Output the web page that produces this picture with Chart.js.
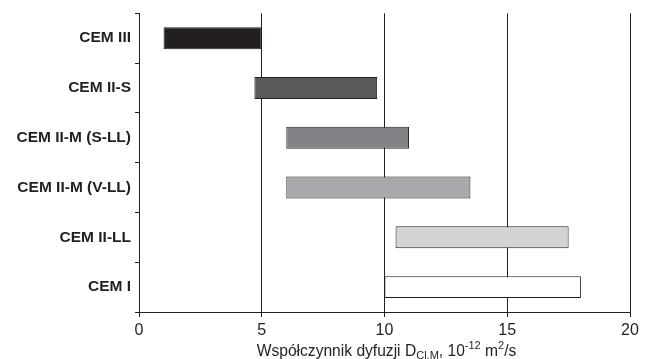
<!DOCTYPE html>
<html>
<head>
<meta charset="utf-8">
<script src="https://cdn.jsdelivr.net/npm/chart.js@4"></script>
<style>
  html, body { margin: 0; padding: 0; background: #fff; }
  #wrap { width: 651px; height: 359px; }
</style>
</head>
<body>
<div id="wrap"><canvas id="myChart"></canvas></div>
<script>
// cement types, top to bottom
var categories = ["CEM III", "CEM II-S", "CEM II-M (S-LL)", "CEM II-M (V-LL)", "CEM II-LL", "CEM I"];
// range of diffusion coefficient, 10^-12 m2/s
var rangeMin = [1.0, 4.7, 6.0, 6.0, 10.45, 10.0];
var rangeMax = [5.0, 9.7, 11.0, 13.5, 17.5, 18.0];
var barColors = ["#231f20", "#58595b", "#808285", "#a7a9ac", "#d1d3d4", "#ffffff"];
var xTicks = [0, 5, 10, 15, 20];

var ink = '#231f20';
var fontFam = 'Arial, "Liberation Sans", sans-serif';

// axis title with sub/superscripts, drawn by hand
var axisTitle = {
    id: 'axisTitle',
    afterDraw: function(chart) {
        var c = chart.ctx;
        var parts = [
            { t: 'Współczynnik dyfuzji D', s: 15.6, dy: 0 },
            { t: 'Cl,M', s: 11, dy: 3 },
            { t: ', 10', s: 15.6, dy: 0 },
            { t: '-12', s: 11, dy: -7 },
            { t: ' m', s: 15.6, dy: 0 },
            { t: '2', s: 11, dy: -7 },
            { t: '/s', s: 15.6, dy: 0 }
        ];
        c.save();
        c.fillStyle = ink;
        c.textBaseline = 'alphabetic';
        c.textAlign = 'left';
        var total = 0;
        parts.forEach(function(p) {
            c.font = p.s + 'px ' + fontFam;
            p.w = c.measureText(p.t).width;
            total += p.w;
        });
        var area = chart.chartArea;
        var x = (area.left + area.right) / 2 - total / 2 + 2;
        var y = 356;
        parts.forEach(function(p) {
            c.font = p.s + 'px ' + fontFam;
            c.fillText(p.t, x, y + p.dy);
            x += p.w;
        });
        c.restore();
    }
};

var ctx = document.getElementById("myChart").getContext('2d');

var myChart = new Chart(ctx, {
    type: 'bar',
    data: {
        labels: categories,
        datasets: [{
            data: categories.map(function(c, i) { return [rangeMin[i], rangeMax[i]]; }),
            backgroundColor: barColors,
            borderColor: ink,
            borderWidth: 1,
            borderSkipped: false,
            barPercentage: 0.44,
            categoryPercentage: 1.0
        }]
    },
    options: {
        indexAxis: 'y',
        responsive: true,
        maintainAspectRatio: false,
        animation: false,
        layout: { padding: { top: 12, right: 21, left: 0, bottom: 0 } },
        plugins: {
            legend: { display: false },
            tooltip: { enabled: false }
        },
        scales: {
            x: {
                min: 0,
                max: 20,
                afterBuildTicks: function(scale) {
                    scale.ticks = xTicks.map(function(v) { return { value: v }; });
                },
                afterFit: function(scale) { scale.height = 47; },
                grid: { color: ink, lineWidth: 1, tickLength: 5, tickColor: ink },
                border: { display: true, color: ink, width: 1 },
                ticks: { color: ink, padding: 4, font: { family: fontFam, size: 16 } }
            },
            y: {
                offset: true,
                afterFit: function(scale) { scale.width = 139; },
                grid: { offset: true, drawOnChartArea: false, tickLength: 4, tickColor: ink },
                border: { display: true, color: ink, width: 1 },
                ticks: { color: ink, padding: 4, font: { family: fontFam, size: 15.5, weight: 'bold' } }
            }
        }
    },
    plugins: [axisTitle]
});
</script>
</body>
</html>
